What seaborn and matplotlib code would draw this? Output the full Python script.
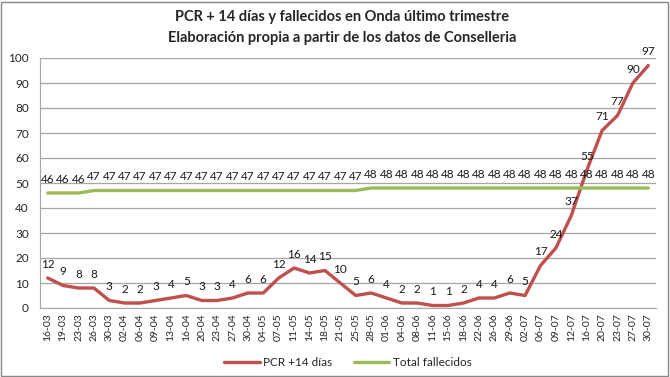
import matplotlib
matplotlib.use("Agg")
import matplotlib.pyplot as plt
import seaborn as sns
import pandas as pd
import numpy as np

# -- Data ----------------------------------------------------------------------
fechas = ['16-03', '19-03', '23-03', '26-03', '30-03', '02-04', '06-04', '09-04',
          '13-04', '16-04', '20-04', '23-04', '27-04', '30-04', '04-05', '07-05',
          '11-05', '14-05', '18-05', '21-05', '25-05', '28-05', '01-06', '04-06',
          '08-06', '11-06', '15-06', '18-06', '22-06', '26-06', '29-06', '02-07',
          '06-07', '09-07', '12-07', '16-07', '20-07', '23-07', '27-07', '30-07']
pcr = [12, 9, 8, 8, 3, 2, 2, 3, 4, 5, 3, 3, 4, 6, 6, 12, 16, 14, 15, 10,
       5, 6, 4, 2, 2, 1, 1, 2, 4, 4, 6, 5, 17, 24, 37, 55, 71, 77, 90, 97]
fallecidos = [46, 46, 46] + [47] * 18 + [48] * 19

RED = '#C0504D'
GREEN = '#9BBB59'

df = pd.DataFrame({'pos': np.arange(len(fechas)), 'fecha': fechas,
                   'PCR +14 días': pcr, 'Total fallecidos': fallecidos})
long = df.melt(id_vars=['pos', 'fecha'], var_name='serie', value_name='valor')

# -- Plot ----------------------------------------------------------------------
sns.set_style('white')
plt.rcParams['font.family'] = ['Lato', 'DejaVu Sans']

fig = plt.figure(figsize=(6.7, 3.77), dpi=100)
ax = fig.add_axes([40 / 670, 69 / 377, 616 / 670, 250 / 377])

sns.lineplot(data=long, x='pos', y='valor', hue='serie',
             palette={'PCR +14 días': RED, 'Total fallecidos': GREEN},
             linewidth=2.4, ax=ax)

# data labels
for x, v in zip(df['pos'], pcr):
    ax.annotate(str(v), (x, v), xytext=(0, 6), textcoords='offset points',
                ha='center', va='bottom', fontsize=8.5, color='#1a1a1a')
for x, v in zip(df['pos'], fallecidos):
    ax.annotate(str(v), (x, v), xytext=(0, 6), textcoords='offset points',
                ha='center', va='bottom', fontsize=8.5, color='#1a1a1a')

ax.set_xlim(-0.5, len(fechas) - 0.5)
ax.set_ylim(0, 100)
ax.set_yticks(range(0, 101, 10))
ax.set_xticks(df['pos'])
ax.set_xticklabels(fechas, rotation=90, fontsize=7.5)
ax.tick_params(axis='y', labelsize=8.5, length=0, pad=8)
ax.tick_params(axis='x', length=0, pad=4)
ax.set_xlabel('')
ax.set_ylabel('')
ax.grid(axis='y', color='#A6A6A6', linewidth=0.9)
ax.set_axisbelow(True)
for side in ['top', 'right']:
    ax.spines[side].set_visible(False)
for side in ['left', 'bottom']:
    ax.spines[side].set_color('#A6A6A6')

handles, labels = ax.get_legend_handles_labels()
ax.legend(handles, labels, loc='center', bbox_to_anchor=(0.5, -0.22),
          ncol=2, frameon=False, fontsize=8.5, handlelength=3,
          columnspacing=1.8, handletextpad=0.3)

fig.text(0.51, 0.955, 'PCR + 14 días y fallecidos en Onda último trimestre',
         ha='center', va='center', fontsize=10.5, fontweight='bold')
fig.text(0.51, 0.9, 'Elaboración propia a partir de los datos de Conselleria',
         ha='center', va='center', fontsize=10.5, fontweight='bold')

# outer border
fig.patches.append(plt.Rectangle((0.002, 0.003), 0.995, 0.993, transform=fig.transFigure,
                                 fill=False, edgecolor='#888888', linewidth=1))

fig.savefig('out.png', dpi=100)
